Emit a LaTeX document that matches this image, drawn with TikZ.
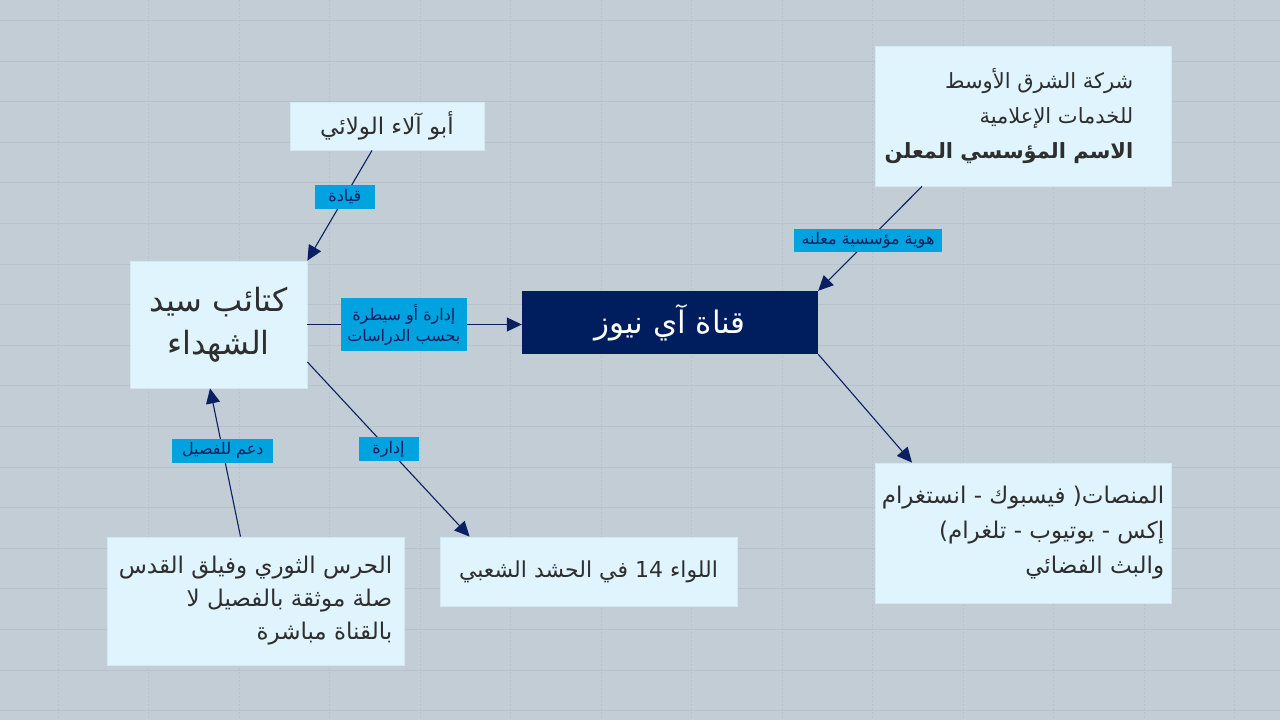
\documentclass[tikz,border=0pt]{standalone}
\usepackage{fontspec}
\usetikzlibrary{arrows.meta}
\TeXXeTstate=1
\newfontfamily\arabicfont[Script=Arabic]{DejaVu Sans}
\newcommand{\myrtl}[1]{\beginR #1\endR}
\newcommand{\padr}{\kern28pt\relax}
\definecolor{bgc}{HTML}{C3CDD6}
\definecolor{gridc}{HTML}{B7C2CC}
\definecolor{boxc}{HTML}{DFF4FD}
\definecolor{boxline}{HTML}{D3E8F2}
\definecolor{navyc}{HTML}{001E5E}
\definecolor{arrowc}{HTML}{0B2060}
\definecolor{labc}{HTML}{00A2DF}
\definecolor{labtext}{HTML}{0A1F5C}
\definecolor{textc}{HTML}{2E2E2E}
\tikzset{
  gridv/.style={draw=gridc, line width=0.8pt, dash pattern=on 2pt off 2pt},
  gridh/.style={draw=gridc, line width=0.7pt},
  box/.style={fill=boxc, draw=boxline, line width=0.8pt, inner sep=0pt, text=textc, align=right, font=\arabicfont\fontsize{23}{35}\selectfont},
  mainbox/.style={fill=navyc, inner sep=0pt, text=white, font=\arabicfont\fontsize{31}{36}\selectfont},
  lab/.style={fill=labc, inner sep=0pt, text=labtext, align=center, font=\arabicfont\fontsize{16}{21}\selectfont},
  conn/.style={draw=arrowc, line width=1.1pt, -{Triangle[length=15pt,width=14pt]}}
}
\begin{document}
\begin{tikzpicture}[x=1pt, y=-1pt]
\fill[bgc] (0,0) rectangle (1280,720);
\useasboundingbox (0,0) rectangle (1280,720);
\foreach \i in {0,...,13} \draw[gridv] ({58.3+90.5*\i},0) -- ({58.3+90.5*\i},720);
\foreach \j in {0,...,17} \draw[gridh] (0,{20.3+40.6*\j}) -- (1280,{20.3+40.6*\j});

% boxes
\node[box, minimum width=194pt, minimum height=48pt] (abu) at (387,126) {\myrtl{أبو آلاء الولائي}};
\node[box, align=center, minimum width=177pt, minimum height=127pt, font=\arabicfont\fontsize{32}{43}\selectfont] (kataib) at (218.5,324.5) {\myrtl{كتائب سيد}\\\myrtl{الشهداء}};
\node[mainbox, minimum width=296pt, minimum height=63pt] (qanat) at (670,322.5) {\myrtl{قناة آي نيوز}};
\node[box, minimum width=296pt, minimum height=140pt, font=\arabicfont\fontsize{21}{35}\selectfont] (sharikat) at (1023,116) {\myrtl{شركة الشرق الأوسط}\padr\\\myrtl{للخدمات الإعلامية}\padr\\{\bfseries\myrtl{الاسم المؤسسي المعلن}}\padr};
\node[box, minimum width=296pt, minimum height=140pt] (manassat) at (1023,533) {\myrtl{المنصات( فيسبوك - انستغرام}\\\myrtl{إكس - يوتيوب - تلغرام)}\\\myrtl{والبث الفضائي}};
\node[box, minimum width=297pt, minimum height=69pt, font=\arabicfont\fontsize{22}{35}\selectfont] (liwa) at (588.5,571.5) {\myrtl{اللواء 14 في الحشد الشعبي}};
\node[box, minimum width=297pt, minimum height=128pt, font=\arabicfont\fontsize{23}{33}\selectfont] (haras) at (255.5,601) {\myrtl{الحرس الثوري وفيلق القدس}\\\myrtl{صلة موثقة بالفصيل لا}\\\myrtl{بالقناة مباشرة}};

% connectors
\draw[conn] ([xshift=-15pt]abu.south) -- (kataib.north east)
  node[lab, pos=0.42, minimum width=60pt, minimum height=24pt] (l1) {\myrtl{قيادة}};
\draw[conn] (kataib.east) -- (kataib.east -| qanat.west)
  node[lab, pos=0.45, minimum width=126pt, minimum height=53pt] (l2) {\myrtl{إدارة أو سيطرة}\\\myrtl{بحسب الدراسات}};
\draw[conn] ([xshift=-101pt]sharikat.south) -- (qanat.north east)
  node[lab, pos=0.52, minimum width=148pt, minimum height=23pt] (l3) {\myrtl{هوية مؤسسية معلنه}};
\draw[conn] (qanat.south east) -- ([xshift=-111pt]manassat.north);
\draw[conn] ([yshift=-37.5pt]kataib.east) -- ([xshift=30pt]liwa.north west)
  node[lab, pos=0.5, minimum width=60pt, minimum height=24pt] (l4) {\myrtl{إدارة}};
\draw[conn] ([xshift=-15pt]haras.north) -- ([xshift=-8.5pt]kataib.south)
  node[lab, pos=0.58, minimum width=101pt, minimum height=24pt] (l5) {\myrtl{دعم للفصيل}};
\end{tikzpicture}
\end{document}
